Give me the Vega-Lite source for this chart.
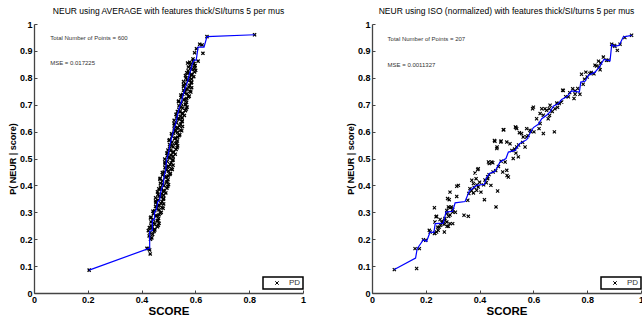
{
  "$schema": "https://vega.github.io/schema/vega-lite/v6.json",
  "padding": {"left": 8, "top": 6, "right": 0, "bottom": 0},
  "background": "white",
  "spacing": 40,
  "datasets": {
    "leftpts": [
      {"x":0.205,"y":0.085},{"x":0.425,"y":0.165},{"x":0.420,"y":0.166},{"x":0.430,"y":0.160},{"x":0.432,"y":0.145},
      {"x":0.433,"y":0.200},{"x":0.438,"y":0.205},{"x":0.428,"y":0.212},{"x":0.441,"y":0.218},{"x":0.431,"y":0.224},{"x":0.446,"y":0.229},
      {"x":0.425,"y":0.232},{"x":0.448,"y":0.237},{"x":0.439,"y":0.241},{"x":0.459,"y":0.246},{"x":0.435,"y":0.250},{"x":0.448,"y":0.255},{"x":0.465,"y":0.259},{"x":0.435,"y":0.264},{"x":0.458,"y":0.268},{"x":0.443,"y":0.273},
      {"x":0.463,"y":0.277},{"x":0.435,"y":0.282},{"x":0.454,"y":0.286},{"x":0.465,"y":0.291},{"x":0.444,"y":0.295},{"x":0.473,"y":0.300},{"x":0.442,"y":0.304},{"x":0.465,"y":0.309},{"x":0.456,"y":0.313},{"x":0.476,"y":0.318},
      {"x":0.452,"y":0.322},{"x":0.465,"y":0.327},{"x":0.482,"y":0.331},{"x":0.453,"y":0.336},{"x":0.476,"y":0.340},{"x":0.461,"y":0.345},{"x":0.481,"y":0.349},{"x":0.452,"y":0.354},{"x":0.471,"y":0.358},{"x":0.482,"y":0.363},
      {"x":0.461,"y":0.367},{"x":0.490,"y":0.372},{"x":0.459,"y":0.376},{"x":0.482,"y":0.381},{"x":0.473,"y":0.385},{"x":0.494,"y":0.390},{"x":0.470,"y":0.394},{"x":0.483,"y":0.399},{"x":0.500,"y":0.403},{"x":0.470,"y":0.408},
      {"x":0.493,"y":0.412},{"x":0.478,"y":0.417},{"x":0.498,"y":0.421},{"x":0.469,"y":0.426},{"x":0.488,"y":0.430},{"x":0.499,"y":0.435},{"x":0.478,"y":0.439},{"x":0.507,"y":0.444},{"x":0.477,"y":0.448},{"x":0.500,"y":0.453},
      {"x":0.491,"y":0.457},{"x":0.511,"y":0.462},{"x":0.487,"y":0.466},{"x":0.500,"y":0.471},{"x":0.517,"y":0.475},{"x":0.487,"y":0.480},{"x":0.510,"y":0.484},{"x":0.495,"y":0.489},{"x":0.515,"y":0.493},{"x":0.486,"y":0.498},
      {"x":0.505,"y":0.502},{"x":0.517,"y":0.507},{"x":0.496,"y":0.511},{"x":0.525,"y":0.516},{"x":0.494,"y":0.520},{"x":0.517,"y":0.525},{"x":0.508,"y":0.529},{"x":0.528,"y":0.534},{"x":0.504,"y":0.538},{"x":0.517,"y":0.543},
      {"x":0.534,"y":0.547},{"x":0.504,"y":0.552},{"x":0.527,"y":0.556},{"x":0.513,"y":0.561},{"x":0.533,"y":0.565},{"x":0.504,"y":0.570},{"x":0.523,"y":0.574},{"x":0.534,"y":0.579},{"x":0.513,"y":0.583},{"x":0.542,"y":0.588},
      {"x":0.511,"y":0.592},{"x":0.534,"y":0.597},{"x":0.525,"y":0.601},{"x":0.545,"y":0.606},{"x":0.521,"y":0.610},{"x":0.534,"y":0.615},{"x":0.552,"y":0.619},{"x":0.522,"y":0.624},{"x":0.545,"y":0.628},{"x":0.530,"y":0.633},
      {"x":0.550,"y":0.637},{"x":0.521,"y":0.642},{"x":0.540,"y":0.646},{"x":0.551,"y":0.651},{"x":0.530,"y":0.655},{"x":0.559,"y":0.660},{"x":0.528,"y":0.664},{"x":0.551,"y":0.669},{"x":0.543,"y":0.673},{"x":0.563,"y":0.678},
      {"x":0.539,"y":0.682},{"x":0.552,"y":0.687},{"x":0.569,"y":0.691},{"x":0.539,"y":0.696},{"x":0.562,"y":0.700},{"x":0.547,"y":0.705},{"x":0.567,"y":0.709},{"x":0.538,"y":0.714},{"x":0.557,"y":0.718},{"x":0.568,"y":0.723},
      {"x":0.547,"y":0.727},{"x":0.577,"y":0.732},{"x":0.546,"y":0.736},{"x":0.569,"y":0.741},{"x":0.560,"y":0.745},{"x":0.580,"y":0.750},{"x":0.556,"y":0.754},{"x":0.569,"y":0.759},{"x":0.586,"y":0.763},{"x":0.556,"y":0.768},
      {"x":0.579,"y":0.772},{"x":0.564,"y":0.777},{"x":0.584,"y":0.781},{"x":0.556,"y":0.786},{"x":0.575,"y":0.790},{"x":0.586,"y":0.795},{"x":0.565,"y":0.799},{"x":0.594,"y":0.804},{"x":0.563,"y":0.808},{"x":0.586,"y":0.813},
      {"x":0.577,"y":0.817},{"x":0.597,"y":0.822},{"x":0.573,"y":0.826},{"x":0.586,"y":0.831},{"x":0.597,"y":0.835},{"x":0.574,"y":0.840},{"x":0.597,"y":0.844},{"x":0.582,"y":0.849},{"x":0.595,"y":0.853},{"x":0.579,"y":0.858},
      {"x":0.592,"y":0.862},{"x":0.591,"y":0.870},{"x":0.597,"y":0.893},{"x":0.610,"y":0.862},{"x":0.616,"y":0.925},{"x":0.625,"y":0.922},{"x":0.628,"y":0.891},{"x":0.604,"y":0.908},{"x":0.643,"y":0.953},{"x":0.820,"y":0.960},
      {"x":0.449,"y":0.234},{"x":0.429,"y":0.243},{"x":0.462,"y":0.252},{"x":0.445,"y":0.261},{"x":0.461,"y":0.270},{"x":0.433,"y":0.279},{"x":0.458,"y":0.288},{"x":0.470,"y":0.297},{"x":0.449,"y":0.306},{"x":0.480,"y":0.315},
      {"x":0.462,"y":0.324},{"x":0.472,"y":0.333},{"x":0.452,"y":0.342},{"x":0.482,"y":0.351},{"x":0.465,"y":0.360},{"x":0.475,"y":0.369},{"x":0.484,"y":0.378},{"x":0.464,"y":0.387},{"x":0.497,"y":0.396},{"x":0.479,"y":0.405},
      {"x":0.495,"y":0.414},{"x":0.468,"y":0.423},{"x":0.493,"y":0.432},{"x":0.505,"y":0.441},{"x":0.484,"y":0.450},{"x":0.514,"y":0.459},{"x":0.496,"y":0.468},{"x":0.506,"y":0.477},{"x":0.487,"y":0.486},{"x":0.517,"y":0.495},
      {"x":0.500,"y":0.504},{"x":0.509,"y":0.513},{"x":0.518,"y":0.522},{"x":0.498,"y":0.531},{"x":0.532,"y":0.540},{"x":0.514,"y":0.549},{"x":0.530,"y":0.558},{"x":0.502,"y":0.567},{"x":0.527,"y":0.576},{"x":0.539,"y":0.585},
      {"x":0.519,"y":0.594},{"x":0.549,"y":0.603},{"x":0.531,"y":0.612},{"x":0.541,"y":0.621},{"x":0.521,"y":0.630},{"x":0.551,"y":0.639},{"x":0.535,"y":0.648},{"x":0.544,"y":0.657},{"x":0.553,"y":0.666},{"x":0.533,"y":0.675},
      {"x":0.566,"y":0.684},{"x":0.548,"y":0.693},{"x":0.564,"y":0.702},{"x":0.537,"y":0.711},{"x":0.562,"y":0.720},{"x":0.574,"y":0.729},{"x":0.553,"y":0.738},{"x":0.583,"y":0.747},{"x":0.565,"y":0.756},{"x":0.576,"y":0.765},
      {"x":0.556,"y":0.774},{"x":0.586,"y":0.783},{"x":0.569,"y":0.792},{"x":0.578,"y":0.801},{"x":0.587,"y":0.810},{"x":0.568,"y":0.819},{"x":0.601,"y":0.828},{"x":0.583,"y":0.837},{"x":0.599,"y":0.846},{"x":0.571,"y":0.855}
    ],
    "leftline": [
      {"x":0.205,"y":0.085},{"x":0.425,"y":0.165},{"x":0.430,"y":0.165},{"x":0.430,"y":0.230},{"x":0.440,"y":0.232},{"x":0.440,"y":0.270},{"x":0.448,"y":0.275},{"x":0.448,"y":0.300},{"x":0.455,"y":0.310},{"x":0.460,"y":0.340},
      {"x":0.467,"y":0.345},{"x":0.470,"y":0.370},{"x":0.475,"y":0.390},{"x":0.480,"y":0.400},{"x":0.483,"y":0.430},{"x":0.490,"y":0.460},{"x":0.492,"y":0.490},{"x":0.500,"y":0.520},{"x":0.505,"y":0.550},{"x":0.510,"y":0.570},
      {"x":0.515,"y":0.590},{"x":0.520,"y":0.610},{"x":0.527,"y":0.630},{"x":0.533,"y":0.660},{"x":0.540,"y":0.690},{"x":0.548,"y":0.710},{"x":0.555,"y":0.740},{"x":0.565,"y":0.770},{"x":0.572,"y":0.790},{"x":0.577,"y":0.810},
      {"x":0.583,"y":0.830},{"x":0.588,"y":0.850},{"x":0.595,"y":0.866},{"x":0.603,"y":0.866},{"x":0.610,"y":0.914},{"x":0.632,"y":0.914},{"x":0.643,"y":0.953},{"x":0.820,"y":0.960}
    ],
    "leftnote": [
      {"x":0.06,"y":0.948,"t":"Total Number of Points = 600"},
      {"x":0.06,"y":0.855,"t":"MSE = 0.017225"}
    ],
    "rightpts": [
      {"x":0.083,"y":0.087},{"x":0.166,"y":0.091},{"x":0.160,"y":0.165},{"x":0.176,"y":0.165},{"x":0.191,"y":0.198},{"x":0.200,"y":0.196},{"x":0.216,"y":0.227},{"x":0.234,"y":0.223},{"x":0.240,"y":0.227},{"x":0.213,"y":0.233},
      {"x":0.246,"y":0.233},{"x":0.234,"y":0.264},{"x":0.250,"y":0.245},{"x":0.253,"y":0.273},{"x":0.263,"y":0.260},{"x":0.271,"y":0.277},{"x":0.278,"y":0.264},{"x":0.290,"y":0.258},{"x":0.284,"y":0.248},{"x":0.300,"y":0.258},
      {"x":0.240,"y":0.285},{"x":0.232,"y":0.317},{"x":0.278,"y":0.307},{"x":0.284,"y":0.320},{"x":0.290,"y":0.317},{"x":0.296,"y":0.320},{"x":0.300,"y":0.301},{"x":0.278,"y":0.295},{"x":0.287,"y":0.347},{"x":0.315,"y":0.359},
      {"x":0.290,"y":0.375},{"x":0.321,"y":0.400},{"x":0.342,"y":0.289},{"x":0.358,"y":0.285},{"x":0.356,"y":0.345},{"x":0.364,"y":0.388},{"x":0.377,"y":0.372},{"x":0.389,"y":0.382},{"x":0.395,"y":0.394},{"x":0.377,"y":0.407},
      {"x":0.238,"y":0.283},{"x":0.244,"y":0.245},{"x":0.232,"y":0.221},{"x":0.269,"y":0.227},{"x":0.279,"y":0.248},{"x":0.281,"y":0.351},{"x":0.387,"y":0.425},{"x":0.393,"y":0.459},{"x":0.383,"y":0.446},{"x":0.418,"y":0.347},
      {"x":0.442,"y":0.400},{"x":0.467,"y":0.379},{"x":0.461,"y":0.320},{"x":0.502,"y":0.437},{"x":0.486,"y":0.450},{"x":0.405,"y":0.375},{"x":0.430,"y":0.425},{"x":0.436,"y":0.481},{"x":0.449,"y":0.484},{"x":0.315,"y":0.397},
      {"x":0.371,"y":0.419},{"x":0.395,"y":0.462},{"x":0.445,"y":0.487},{"x":0.433,"y":0.487},{"x":0.507,"y":0.431},{"x":0.501,"y":0.456},{"x":0.495,"y":0.487},{"x":0.525,"y":0.500},{"x":0.544,"y":0.506},{"x":0.535,"y":0.520},
      {"x":0.513,"y":0.555},{"x":0.501,"y":0.561},{"x":0.479,"y":0.561},{"x":0.464,"y":0.537},{"x":0.457,"y":0.564},{"x":0.488,"y":0.607},{"x":0.538,"y":0.611},{"x":0.548,"y":0.596},{"x":0.556,"y":0.593},{"x":0.562,"y":0.580},
      {"x":0.575,"y":0.580},{"x":0.587,"y":0.605},{"x":0.600,"y":0.691},{"x":0.631,"y":0.685},{"x":0.649,"y":0.679},{"x":0.637,"y":0.661},{"x":0.612,"y":0.648},{"x":0.625,"y":0.630},{"x":0.637,"y":0.593},{"x":0.602,"y":0.599},
      {"x":0.569,"y":0.543},{"x":0.538,"y":0.543},{"x":0.621,"y":0.611},{"x":0.655,"y":0.648},{"x":0.535,"y":0.615},{"x":0.575,"y":0.611},{"x":0.643,"y":0.685},{"x":0.659,"y":0.685},{"x":0.625,"y":0.667},{"x":0.662,"y":0.698},
      {"x":0.680,"y":0.685},{"x":0.687,"y":0.706},{"x":0.696,"y":0.704},{"x":0.705,"y":0.710},{"x":0.711,"y":0.753},{"x":0.746,"y":0.759},{"x":0.755,"y":0.751},{"x":0.751,"y":0.723},{"x":0.755,"y":0.739},{"x":0.730,"y":0.729},
      {"x":0.773,"y":0.739},{"x":0.779,"y":0.813},{"x":0.785,"y":0.776},{"x":0.795,"y":0.821},{"x":0.800,"y":0.803},{"x":0.810,"y":0.816},{"x":0.825,"y":0.815},{"x":0.829,"y":0.847},{"x":0.835,"y":0.844},{"x":0.845,"y":0.840},
      {"x":0.848,"y":0.830},{"x":0.842,"y":0.862},{"x":0.860,"y":0.877},{"x":0.872,"y":0.865},{"x":0.878,"y":0.865},{"x":0.891,"y":0.925},{"x":0.903,"y":0.917},{"x":0.912,"y":0.902},{"x":0.922,"y":0.925},{"x":0.965,"y":0.958},
      {"x":0.455,"y":0.567},{"x":0.480,"y":0.565},{"x":0.490,"y":0.607},{"x":0.465,"y":0.543},{"x":0.533,"y":0.617},{"x":0.597,"y":0.685},{"x":0.678,"y":0.599},{"x":0.709,"y":0.754},
      {"x":0.420,"y":0.420},{"x":0.425,"y":0.410},{"x":0.430,"y":0.432},{"x":0.435,"y":0.440},{"x":0.415,"y":0.402},{"x":0.450,"y":0.450},{"x":0.460,"y":0.455},{"x":0.470,"y":0.470},{"x":0.480,"y":0.490},{"x":0.265,"y":0.266},
      {"x":0.270,"y":0.271},{"x":0.268,"y":0.255},{"x":0.260,"y":0.262},{"x":0.255,"y":0.252},{"x":0.290,"y":0.290},{"x":0.300,"y":0.310},{"x":0.310,"y":0.300},{"x":0.285,"y":0.285},{"x":0.360,"y":0.370},{"x":0.370,"y":0.380},
      {"x":0.380,"y":0.392},{"x":0.390,"y":0.402},{"x":0.400,"y":0.412},{"x":0.545,"y":0.550},{"x":0.520,"y":0.530},{"x":0.530,"y":0.535},{"x":0.560,"y":0.560},{"x":0.580,"y":0.585},{"x":0.590,"y":0.600},{"x":0.660,"y":0.660},
      {"x":0.670,"y":0.675},{"x":0.690,"y":0.690},{"x":0.720,"y":0.730},{"x":0.735,"y":0.745},{"x":0.765,"y":0.760},{"x":0.790,"y":0.795},{"x":0.815,"y":0.820},{"x":0.850,"y":0.855},{"x":0.900,"y":0.920},{"x":0.940,"y":0.950}
    ],
    "rightline": [
      {"x":0.083,"y":0.087},{"x":0.162,"y":0.130},{"x":0.168,"y":0.165},{"x":0.191,"y":0.198},{"x":0.203,"y":0.192},{"x":0.216,"y":0.227},{"x":0.230,"y":0.225},{"x":0.235,"y":0.258},{"x":0.265,"y":0.260},{"x":0.275,"y":0.301},
      {"x":0.300,"y":0.304},{"x":0.309,"y":0.335},{"x":0.346,"y":0.340},{"x":0.362,"y":0.380},{"x":0.389,"y":0.400},{"x":0.418,"y":0.404},{"x":0.424,"y":0.425},{"x":0.436,"y":0.444},{"x":0.457,"y":0.452},{"x":0.476,"y":0.487},
      {"x":0.498,"y":0.500},{"x":0.507,"y":0.524},{"x":0.532,"y":0.530},{"x":0.548,"y":0.555},{"x":0.575,"y":0.570},{"x":0.587,"y":0.593},{"x":0.600,"y":0.615},{"x":0.618,"y":0.627},{"x":0.631,"y":0.648},{"x":0.649,"y":0.661},
      {"x":0.662,"y":0.673},{"x":0.674,"y":0.694},{"x":0.693,"y":0.704},{"x":0.705,"y":0.719},{"x":0.724,"y":0.729},{"x":0.742,"y":0.751},{"x":0.771,"y":0.747},{"x":0.776,"y":0.784},{"x":0.792,"y":0.787},{"x":0.804,"y":0.809},
      {"x":0.829,"y":0.821},{"x":0.845,"y":0.840},{"x":0.862,"y":0.868},{"x":0.885,"y":0.863},{"x":0.891,"y":0.923},{"x":0.903,"y":0.917},{"x":0.919,"y":0.921},{"x":0.934,"y":0.952},{"x":0.965,"y":0.958}
    ],
    "rightnote": [
      {"x":0.058,"y":0.946,"t":"Total Number of Points = 207"},
      {"x":0.058,"y":0.846,"t":"MSE = 0.0011327"}
    ]
  },
  "hconcat": [
    {
      "title": "NEUR using AVERAGE with features thick/SI/turns 5 per mus",
      "width": 269,
      "height": 269,
      "encoding": {
        "x": {"field": "x", "type": "quantitative", "scale": {"domain": [0, 1], "nice": false}, "axis": {"title": "SCORE", "values": [0, 0.2, 0.4, 0.6, 0.8, 1], "format": "~g"}},
        "y": {"field": "y", "type": "quantitative", "scale": {"domain": [0, 1], "nice": false}, "axis": {"title": "P( NEUR | score)", "values": [0, 0.1, 0.2, 0.3, 0.4, 0.5, 0.6, 0.7, 0.8, 0.9, 1], "format": "~g"}}
      },
      "layer": [
        {"data": {"name": "leftpts"}, "mark": {"type": "point", "filled": false, "stroke": "black", "strokeWidth": 1.3, "size": 10, "opacity": 1},
         "encoding": {"shape": {"datum": "PD", "type": "nominal", "scale": {"domain": ["PD"], "range": ["M-1,-1L1,1M-1,1L1,-1"]}, "legend": {"title": null}}}},
        {"data": {"name": "leftline"}, "mark": {"type": "line", "color": "#0000ff", "strokeWidth": 1.2}, "encoding": {"order": {"value": null}}},
        {"data": {"name": "leftnote"}, "mark": {"type": "text", "align": "left", "baseline": "middle", "fontSize": 6, "color": "#333333", "font": "Liberation Sans"}, "encoding": {"text": {"field": "t"}}}
      ]
    },
    {
      "title": "NEUR using ISO (normalized) with features thick/SI/turns 5 per mus",
      "width": 269,
      "height": 269,
      "encoding": {
        "x": {"field": "x", "type": "quantitative", "scale": {"domain": [0, 1], "nice": false}, "axis": {"title": "SCORE", "values": [0, 0.2, 0.4, 0.6, 0.8, 1], "format": "~g"}},
        "y": {"field": "y", "type": "quantitative", "scale": {"domain": [0, 1], "nice": false}, "axis": {"title": "P( NEUR | score)", "values": [0, 0.1, 0.2, 0.3, 0.4, 0.5, 0.6, 0.7, 0.8, 0.9, 1], "format": "~g"}}
      },
      "layer": [
        {"data": {"name": "rightpts"}, "mark": {"type": "point", "filled": false, "stroke": "black", "strokeWidth": 1.1, "size": 10, "opacity": 1},
         "encoding": {"shape": {"datum": "PD", "type": "nominal", "scale": {"domain": ["PD"], "range": ["M-1,-1L1,1M-1,1L1,-1"]}, "legend": {"title": null}}}},
        {"data": {"name": "rightline"}, "mark": {"type": "line", "color": "#0000ff", "strokeWidth": 1.2}, "encoding": {"order": {"value": null}}},
        {"data": {"name": "rightnote"}, "mark": {"type": "text", "align": "left", "baseline": "middle", "fontSize": 6, "color": "#333333", "font": "Liberation Sans"}, "encoding": {"text": {"field": "t"}}}
      ]
    }
  ],
  "resolve": {"scale": {"shape": "independent"}, "legend": {"shape": "independent"}},
  "config": {
    "view": {"stroke": null},
    "font": "Liberation Sans",
    "axis": {"grid": false, "domainColor": "#444444", "domainWidth": 1.3, "tickColor": "#444444", "tickSize": -3, "tickWidth": 1,
      "labelFont": "Liberation Sans", "labelFontSize": 9, "labelFontWeight": "bold", "labelColor": "#000000",
      "titleFont": "Liberation Sans", "titleFontWeight": "bold", "titleColor": "#000000"},
    "axisX": {"labelPadding": 5, "titleFontSize": 11.5, "titlePadding": 1, "labelFlush": false},
    "axisY": {"labelPadding": 5, "titleFontSize": 9, "titlePadding": 2, "labelFlush": false},
    "title": {"fontSize": 8.5, "fontWeight": "normal", "font": "Liberation Sans", "color": "#000000", "offset": 5},
    "legend": {"orient": "none", "legendX": 229, "legendY": 253, "strokeColor": "#000000", "strokeWidth": 1.5, "padding": 2,
      "symbolOffset": 8, "labelOffset": 8, "labelFontSize": 8, "labelFont": "Liberation Sans", "labelColor": "#333333",
      "symbolSize": 12, "symbolStrokeWidth": 1, "symbolStrokeColor": "#000000", "symbolFillColor": "transparent"}
  }
}
